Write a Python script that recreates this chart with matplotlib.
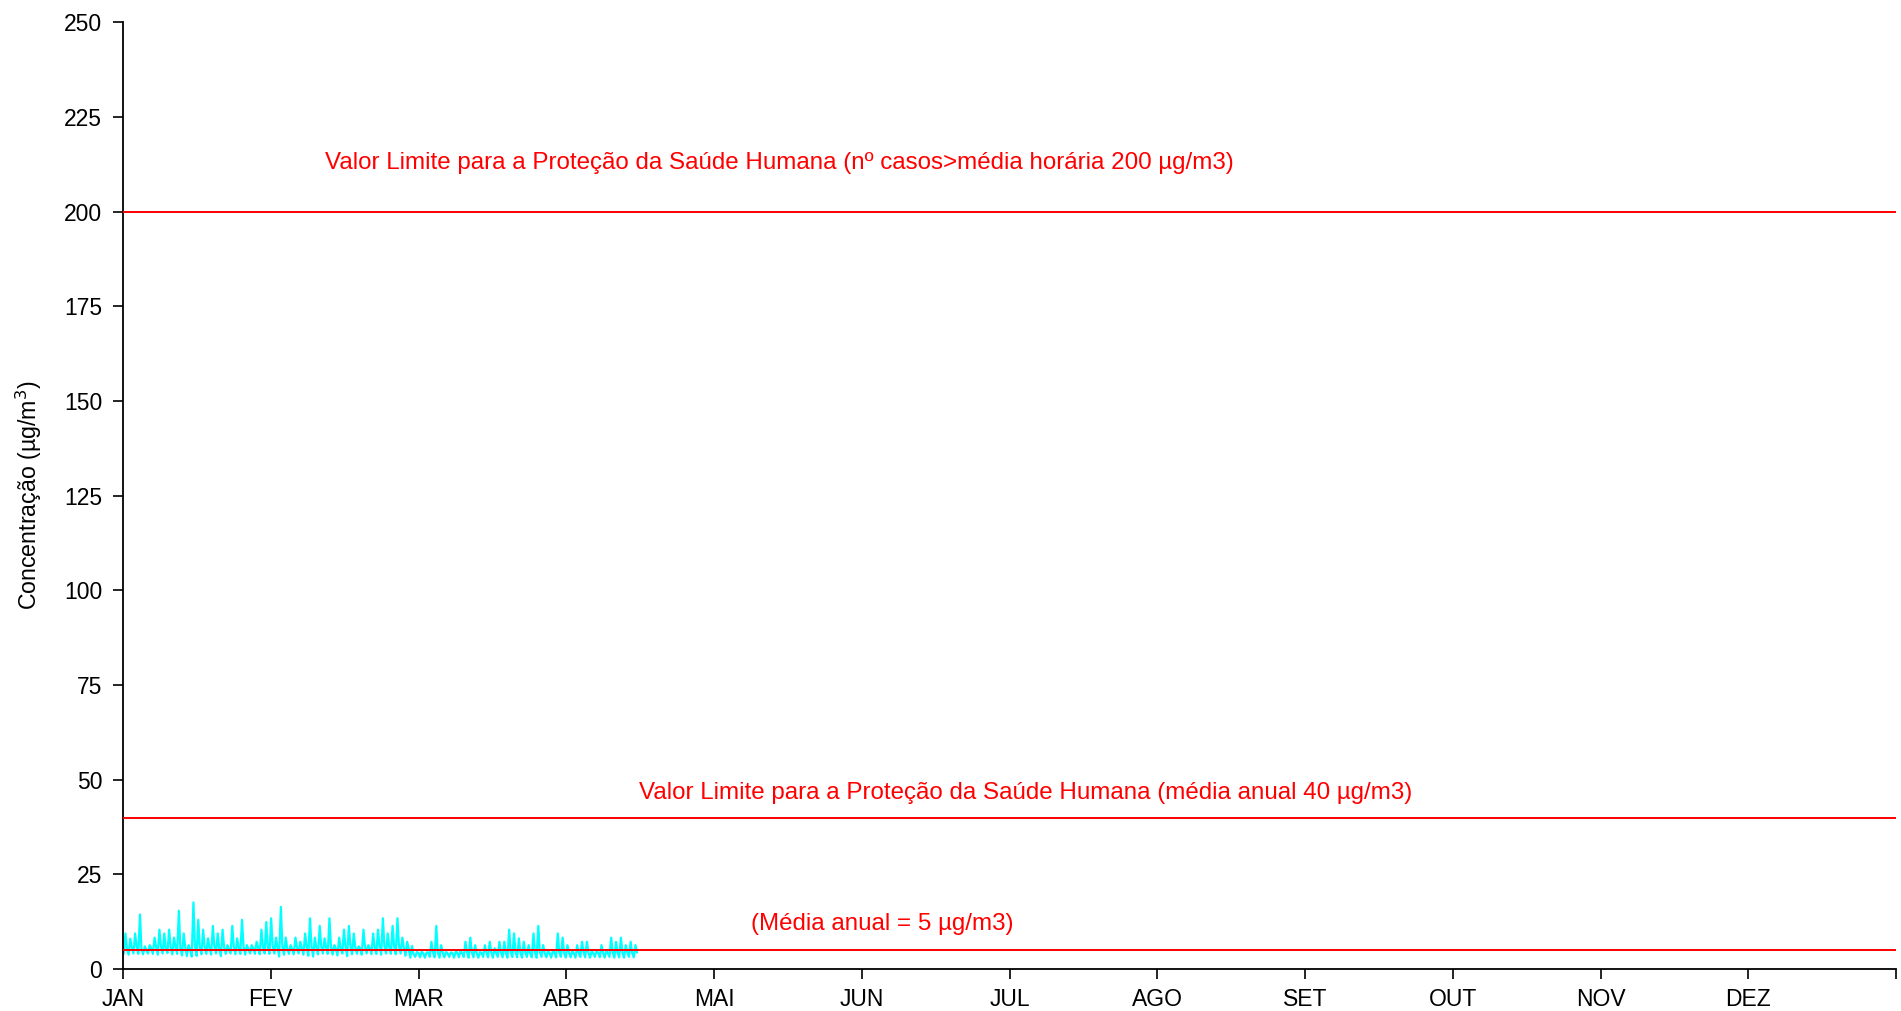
import numpy as np
import matplotlib.pyplot as plt

plt.rcParams['font.family'] = ['Liberation Sans', 'DejaVu Sans']

# meses (eixo x com espaçamento igual)
meses = ['JAN', 'FEV', 'MAR', 'ABR', 'MAI', 'JUN', 'JUL', 'AGO', 'SET', 'OUT', 'NOV', 'DEZ']

# valores diários (1 jan a 15 abr)
pico = [9.4, 8.0, 9.4, 14.4, 6.0, 6.3, 8.3, 10.4, 9.4, 10.4,
        8.3, 15.4, 9.4, 6.3, 17.6, 13.0, 10.4, 8.1, 11.4, 9.4,
        10.4, 6.3, 11.4, 8.1, 13.0, 6.3, 6.3, 7.2, 10.4, 12.4,
        13.4, 8.3, 16.4, 8.3, 6.3, 8.3, 7.2, 9.4, 13.4, 8.3,
        11.4, 8.1, 13.4, 6.3, 8.3, 10.4, 11.4, 9.4, 6.0, 10.4,
        6.3, 9.4, 10.4, 13.4, 9.4, 11.4, 13.4, 8.3, 7.2, 6.1,
        4.5, 4.6, 4.4, 7.2, 11.4, 6.3, 4.5, 4.4, 4.6, 4.8,
        7.2, 8.3, 6.3, 4.5, 6.3, 7.2, 5.5, 7.2, 7.2, 10.4,
        9.4, 8.1, 7.2, 6.3, 9.4, 11.4, 6.3, 4.8, 5.0, 9.4,
        8.3, 6.3, 4.8, 6.3, 7.2, 7.2, 4.8, 5.0, 6.3, 5.0,
        8.3, 7.2, 8.3, 6.3, 7.2, 6.3]
minimo = [4.1, 3.8, 4.1, 4.0, 3.9, 4.1, 4.0, 3.8, 4.1, 4.2,
          3.9, 4.0, 3.6, 3.4, 3.3, 3.5, 3.9, 4.0, 3.8, 4.1,
          3.4, 4.0, 4.1, 3.9, 4.0, 3.8, 4.1, 4.0, 3.9, 4.1,
          4.0, 4.1, 3.3, 3.8, 4.0, 3.9, 4.1, 3.8, 3.5, 3.3,
          3.9, 4.1, 4.0, 3.8, 3.6, 4.1, 3.4, 3.9, 4.0, 3.8,
          4.1, 3.9, 4.0, 3.8, 4.1, 4.0, 3.9, 4.1, 3.5, 3.0,
          3.2, 3.1, 3.0, 3.2, 3.1, 3.0, 3.1, 3.2, 3.0, 3.1,
          3.2, 3.0, 3.1, 3.0, 3.2, 3.1, 3.0, 3.2, 3.1, 3.0,
          3.2, 3.1, 3.0, 3.2, 3.1, 3.0, 3.2, 3.1, 3.0, 3.1,
          3.2, 3.0, 3.1, 3.0, 3.2, 3.1, 3.0, 3.2, 3.1, 3.0,
          3.2, 3.0, 3.1, 3.0, 3.2, 3.1]
tipico = [5.5, 5.8, 6.0, 5.2, 5.0, 5.6, 5.9, 6.1, 5.4, 5.8,
          6.0, 5.5, 5.9, 5.2, 6.2, 5.8, 6.0, 5.7, 6.1, 5.5,
          5.9, 5.3, 6.0, 5.8, 6.1, 5.5, 5.6, 5.8, 6.0, 5.9,
          6.2, 5.7, 6.0, 5.5, 5.3, 5.8, 5.6, 6.0, 5.9, 5.7,
          6.1, 5.8, 5.9, 5.4, 5.6, 6.0, 6.2, 5.9, 5.5, 6.0,
          5.6, 5.8, 6.0, 6.2, 5.9, 6.1, 6.3, 5.8, 5.5, 4.0,
          4.3, 4.2, 4.4, 4.5, 4.3, 4.4, 4.2, 4.3, 4.4, 4.2,
          4.5, 4.4, 4.3, 4.2, 4.4, 4.5, 4.3, 4.4, 4.2, 4.5,
          4.4, 4.3, 4.5, 4.2, 4.4, 4.5, 4.3, 4.2, 4.4, 4.5,
          4.3, 4.4, 4.2, 4.3, 4.5, 4.4, 4.2, 4.3, 4.4, 4.2,
          4.5, 4.3, 4.4, 4.5, 4.3, 4.4]

limite_horario = 200
limite_anual = 40
media_anual = 5

# série: três leituras por dia (mínimo, pico, típico)
dias_mes = 365 / 12
t, y = [], []
for d in range(len(pico)):
    t += [(d + 0.15) / dias_mes, (d + 0.5) / dias_mes, (d + 0.8) / dias_mes]
    y += [minimo[d], pico[d], tipico[d]]

fig = plt.figure(figsize=(19.01, 10.11), dpi=100)
ax = fig.add_axes([0.0647, 0.0415, 0.9327, 0.9365])

ax.plot(t, y, color='#00FFFF', lw=1.6, zorder=2)
for v in [limite_horario, limite_anual, media_anual]:
    ax.axhline(v, color='#FF0000', lw=1.4, zorder=3)

fs = 17.4
ax.text(4.44, 212.9, 'Valor Limite para a Proteção da Saúde Humana (nº casos>média horária 200 µg/m3)',
        color='#FF0000', fontsize=fs, ha='center', va='center')
ax.text(6.11, 46.4, 'Valor Limite para a Proteção da Saúde Humana (média anual 40 µg/m3)',
        color='#FF0000', fontsize=fs, ha='center', va='center')
ax.text(5.14, 11.8, '(Média anual = 5 µg/m3)',
        color='#FF0000', fontsize=fs, ha='center', va='center')

ax.set_xlim(0, 12)
ax.set_ylim(0, 250)
ax.set_xticks(range(13))
ax.set_xticklabels(meses + [''])
ax.set_yticks(range(0, 251, 25))
ax.tick_params(axis='both', labelsize=16.5, length=7, width=1.2, direction='out')
ax.tick_params(axis='y', pad=8)
ax.tick_params(axis='x', pad=7)
ax.set_ylabel('Concentração (µg/m$^3$)', fontsize=16.7, labelpad=14)

for s in ['top', 'right']:
    ax.spines[s].set_visible(False)
for s in ['left', 'bottom']:
    ax.spines[s].set_linewidth(1.3)

fig.savefig('out.png', dpi=100)
